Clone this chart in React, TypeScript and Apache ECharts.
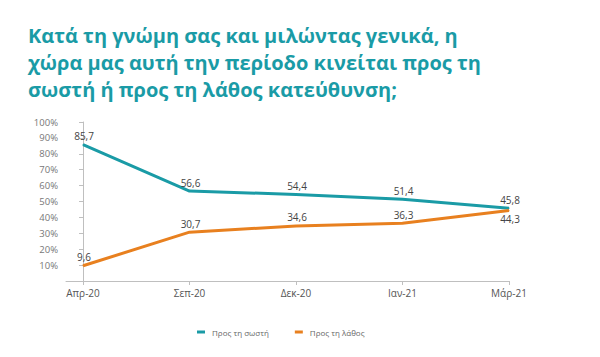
import React, { useEffect, useRef } from "react";
import * as echarts from "echarts";

const categories = ["Απρ-20", "Σεπ-20", "Δεκ-20", "Ιαν-21", "Μάρ-21"];
const rightValues = [85.7, 56.6, 54.4, 51.4, 45.8];
const wrongValues = [9.6, 30.7, 34.6, 36.3, 44.3];
const yTicks = [10, 20, 30, 40, 50, 60, 70, 80, 90, 100];
const seriesNames = ["Προς τη σωστή", "Προς τη λάθος"];
const titleText =
  "Κατά τη γνώμη σας και μιλώντας γενικά, η\nχώρα μας αυτή την περίοδο κινείται προς τη\nσωστή ή προς τη λάθος κατεύθυνση;";

const TEAL = "#1a9ba6";
const ORANGE = "#e8801f";

const fmt = (v: number) => v.toFixed(1).replace(".", ",");

export default function App() {
  const ref = useRef<HTMLDivElement>(null);
  useEffect(() => {
    if (!ref.current) return;
    const chart = echarts.init(ref.current, undefined, { renderer: "svg" });
    const idx = categories.map((_, i) => i);
    const labelCfg = {
      show: true,
      position: "top",
      distance: 3,
      offset: [1, 0],
      formatter: (p: any) => fmt(p.value[1]),
      fontFamily: "Open Sans",
      fontSize: 10,
      color: "#444",
    };
    chart.setOption({
      animation: false,
      backgroundColor: "#ffffff",
      title: {
        text: titleText,
        left: 15,
        top: 9,
        textStyle: {
          fontFamily: "Open Sans",
          fontWeight: "bold",
          fontSize: 20,
          lineHeight: 27,
          color: TEAL,
        },
      },
      legend: {
        bottom: 8,
        left: 184,
        itemWidth: 8,
        itemHeight: 3,
        itemGap: 26,
        icon: "rect",
        textStyle: {
          fontFamily: "Open Sans",
          fontSize: 8,
          color: "#666",
          padding: [0, 0, 0, 2],
        },
        data: seriesNames,
      },
      grid: { left: 58, right: 83, top: 114, bottom: 68 },
      xAxis: {
        type: "value",
        min: -0.16,
        max: 4,
        splitLine: { show: false },
        axisLine: { lineStyle: { color: "#bfbfbf" } },
        axisTick: {
          show: true,
          customValues: idx,
          length: 4,
          lineStyle: { color: "#bfbfbf" },
        },
        axisLabel: {
          customValues: idx,
          formatter: (v: number) => categories[Math.round(v)] ?? "",
          fontFamily: "Open Sans",
          fontSize: 10,
          color: "#555",
          margin: 7,
        },
      },
      yAxis: {
        type: "value",
        min: 0,
        max: 100,
        interval: 10,
        splitLine: { show: false },
        axisLine: { show: true, lineStyle: { color: "#bfbfbf" } },
        axisTick: { show: true, length: 4, lineStyle: { color: "#bfbfbf" } },
        axisLabel: {
          customValues: yTicks,
          formatter: (v: number) => v + "%",
          fontFamily: "Open Sans",
          fontSize: 9.5,
          color: "#777",
          margin: 8,
        },
      },
      series: [
        {
          name: seriesNames[0],
          type: "line",
          data: rightValues.map((v, i) => [i, v]),
          symbol: "circle",
          symbolSize: 1,
          showSymbol: true,
          lineStyle: { color: TEAL, width: 3 },
          itemStyle: { color: TEAL },
          label: labelCfg,
        },
        {
          name: seriesNames[1],
          type: "line",
          data: wrongValues.map((v, i) =>
            i === wrongValues.length - 1
              ? { value: [i, v], label: { position: "bottom", offset: [1, 0] } }
              : [i, v]
          ),
          symbol: "circle",
          symbolSize: 1,
          showSymbol: true,
          lineStyle: { color: ORANGE, width: 3 },
          itemStyle: { color: ORANGE },
          label: labelCfg,
        },
      ],
    });
    return () => chart.dispose();
  }, []);
  return <div ref={ref} style={{ width: 584, height: 341 }} />;
}
